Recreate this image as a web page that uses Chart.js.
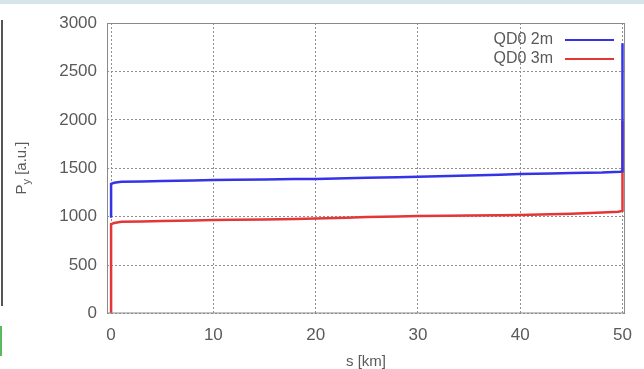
<!DOCTYPE html>
<html>
<head>
<meta charset="utf-8">
<script src="https://cdn.jsdelivr.net/npm/chart.js@4"></script>
<style>
  html, body { margin: 0; padding: 0; background: #fff; }
  .wrap { position: relative; width: 644px; height: 369px; overflow: hidden; }
  .topband { position: absolute; left: 0; top: 0; width: 644px; height: 4px; background: #d5e5ea; }
  .leftline { position: absolute; left: 1px; top: 20px; width: 2px; height: 286px; background: #555; }
  .greenmark { position: absolute; left: 0; top: 326px; width: 2px; height: 30px; background: #5cb85c; }
  canvas { position: absolute; left: 0; top: 0; }
</style>
</head>
<body>
<div class="wrap">
  <canvas id="pyChart" width="644" height="369"></canvas>
  <div class="topband"></div>
  <div class="leftline"></div>
  <div class="greenmark"></div>
</div>
<script>
// data
const seriesLabels = ['QD0 2m', 'QD0 3m'];
const xTicks = [0, 10, 20, 30, 40, 50];
const yTicks = [0, 500, 1000, 1500, 2000, 2500, 3000];

const blueS = [0, 0, 0.3, 1, 3, 5, 8, 10, 12, 15, 18, 20, 23, 25, 28, 30, 33, 35, 38, 40, 43, 45, 48, 49.8, 50, 50];
const blueP = [990, 1338, 1350, 1361, 1364, 1368, 1373, 1379, 1382, 1385, 1388, 1390, 1396, 1402, 1408, 1413, 1420, 1426, 1434, 1441, 1446, 1450, 1455, 1465, 1470, 2790];

const redS = [0, 0, 0.3, 1, 3, 5, 8, 10, 12, 15, 18, 20, 23, 25, 28, 30, 33, 35, 38, 40, 43, 45, 48, 49.6, 50, 50];
const redP = [0, 924, 935, 948, 951, 955, 960, 965, 968, 972, 977, 982, 990, 996, 1002, 1006, 1010, 1012, 1015, 1017, 1024, 1030, 1042, 1051, 1060, 1990];

const textColor = '#5a5a5a';
const fontFamily = "'Liberation Sans', Arial, sans-serif";

const toPoints = (xs, ys) => xs.map((x, i) => ({ x: x, y: ys[i] }));

// box round the plot, gnuplot style
const frame = {
  id: 'frame',
  afterDraw(chart) {
    const { ctx, chartArea } = chart;
    ctx.save();
    ctx.strokeStyle = '#8a8a8a';
    ctx.lineWidth = 1;
    ctx.strokeRect(chartArea.left + 0.5, chartArea.top + 0.5, chartArea.width - 1, chartArea.height - 1);
    ctx.restore();
  }
};

// legend in the top right corner, text left of the line sample
const cornerLegend = {
  id: 'cornerLegend',
  afterDraw(chart) {
    const { ctx } = chart;
    ctx.save();
    ctx.font = '16px ' + fontFamily;
    ctx.textAlign = 'right';
    ctx.textBaseline = 'middle';
    chart.data.datasets.forEach((ds, i) => {
      const y = 40 + i * 19;
      ctx.fillStyle = textColor;
      ctx.fillText(ds.label, 553, y);
      ctx.strokeStyle = ds.borderColor;
      ctx.lineWidth = 2;
      ctx.beginPath();
      ctx.moveTo(565, y);
      ctx.lineTo(614, y);
      ctx.stroke();
    });
    ctx.restore();
  }
};

// rotated y title with subscript y
const yTitle = {
  id: 'yTitle',
  afterDraw(chart) {
    const { ctx } = chart;
    ctx.save();
    ctx.translate(22, 168);
    ctx.rotate(-Math.PI / 2);
    ctx.fillStyle = textColor;
    ctx.textBaseline = 'middle';
    ctx.font = '15px ' + fontFamily;
    const wP = ctx.measureText('P').width;
    const wRest = ctx.measureText(' [a.u.]').width;
    ctx.font = '11px ' + fontFamily;
    const wSub = ctx.measureText('y').width;
    let x = -(wP + wSub + wRest) / 2;
    ctx.font = '15px ' + fontFamily;
    ctx.fillText('P', x, 0);
    x += wP;
    ctx.font = '11px ' + fontFamily;
    ctx.fillText('y', x, 5);
    x += wSub;
    ctx.font = '15px ' + fontFamily;
    ctx.fillText(' [a.u.]', x, 0);
    ctx.restore();
  }
};

new Chart(document.getElementById('pyChart'), {
  type: 'scatter',
  data: {
    datasets: [
      {
        label: seriesLabels[0],
        data: toPoints(blueS, blueP),
        showLine: true,
        borderColor: '#3434e6',
        borderWidth: 2.5,
        pointRadius: 0,
        tension: 0,
      },
      {
        label: seriesLabels[1],
        data: toPoints(redS, redP),
        showLine: true,
        borderColor: '#e33636',
        borderWidth: 2.5,
        pointRadius: 0,
        tension: 0,
      },
    ],
  },
  options: {
    responsive: false,
    animation: false,
    layout: {
      padding: { left: 0, top: 23, right: 11, bottom: 0 },
    },
    plugins: {
      legend: { display: false },
      tooltip: { enabled: false },
    },
    scales: {
      x: {
        type: 'linear',
        min: -0.4,
        max: 50.25,
        afterBuildTicks: (scale) => {
          scale.ticks = xTicks.map(v => ({ value: v }));
        },
        afterFit: (scale) => { scale.height = 55.5; },
        ticks: {
          color: textColor,
          font: { family: fontFamily, size: 17 },
          padding: 12,
          maxRotation: 0,
          callback: (v) => String(v),
        },
        grid: {
          color: '#8f8f8f',
          lineWidth: 1,
          drawTicks: false,
        },
        border: { display: false, dash: [2, 2] },
        title: {
          display: true,
          text: 's [km]',
          color: textColor,
          font: { family: fontFamily, size: 15, lineHeight: 1 },
          padding: { top: 0, bottom: 0 },
        },
      },
      y: {
        min: 0,
        max: 3000,
        afterBuildTicks: (scale) => {
          scale.ticks = yTicks.map(v => ({ value: v }));
        },
        afterFit: (scale) => { scale.width = 107; },
        ticks: {
          color: textColor,
          font: { family: fontFamily, size: 17 },
          padding: 10,
          callback: (v) => String(v),
        },
        grid: {
          color: '#8f8f8f',
          lineWidth: 1,
          drawTicks: false,
        },
        border: { display: false, dash: [2, 2] },
      },
    },
  },
  plugins: [frame, cornerLegend, yTitle],
});
</script>
</body>
</html>
